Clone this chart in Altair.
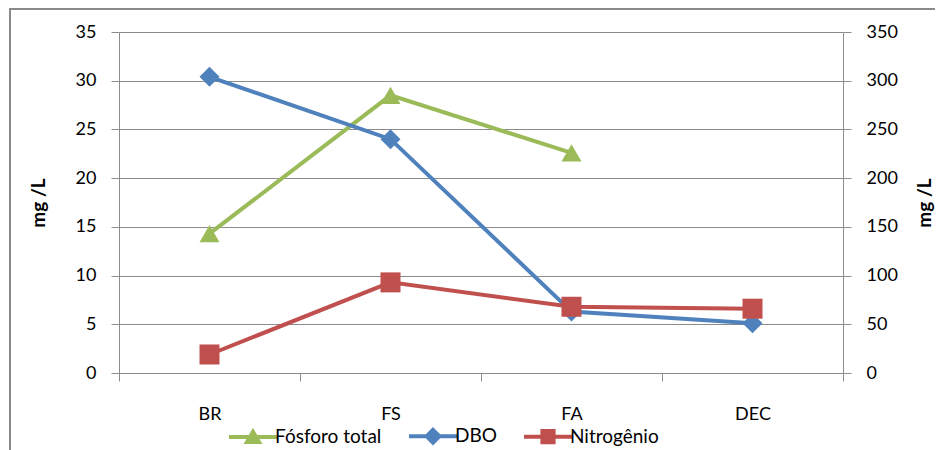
import altair as alt
import pandas as pd

categories = ["BR", "FS", "FA", "DEC"]
series_names = ["Fósforo total", "DBO", "Nitrogênio"]
fosforo_total = [14.3, 28.5, 22.6, None]
dbo = [304, 240, 63, 51]
nitrogenio = [1.9, 9.3, 6.8, 6.6]
colors = ["#9BBB59", "#4F81BD", "#C0504D"]
left_ticks = [0, 5, 10, 15, 20, 25, 30, 35]
right_ticks = [0, 50, 100, 150, 200, 250, 300, 350]
shapes = ["triangle-up", "diamond", "square"]
legend_paths = [
    "M-1,0H5M2,-0.65L2.75,0.65L1.25,0.65Z",
    "M-1,0H5M2,-0.8L2.8,0L2,0.8L1.2,0Z",
    "M-1,0H5M1.3,-0.7H2.7V0.7H1.3Z",
]

FONT = "Lato"
GRID = "#8c8c8c"


def frame(values):
    rows = [(c, v) for c, v in zip(categories, values) if v is not None]
    return pd.DataFrame(rows, columns=["cat", "value"])


x_enc = alt.X(
    "cat:N",
    sort=categories,
    bandPosition=0.5,
    scale=alt.Scale(type="band", domain=categories, paddingInner=0, paddingOuter=0),
    axis=alt.Axis(
        title=None, labelAngle=0, tickBand="extent", tickSize=8, labelPadding=24,
        labelFont=FONT, labelFontSize=18, labelColor="black",
        domainColor=GRID, tickColor=GRID, grid=False,
    ),
)


def series(values, color, shape, domain, axis):
    df = frame(values)
    y = alt.Y("value:Q", scale=alt.Scale(domain=domain, nice=False, zero=True), axis=axis)
    line = alt.Chart(df).mark_line(color=color, strokeWidth=4).encode(x=x_enc, y=y)
    pts = alt.Chart(df).mark_point(
        shape=shape, filled=True, color=color, opacity=1, size=400
    ).encode(x=x_enc, y=y)
    return line + pts


left_axis = alt.Axis(
    orient="left", values=left_ticks, title="mg /L", grid=True, gridColor=GRID,
    gridWidth=1, tickSize=8, tickColor=GRID, domainColor=GRID, labelPadding=15,
    labelFont=FONT, labelFontSize=18, labelColor="black",
    titleFont=FONT, titleFontSize=19, titleFontWeight="bold", titleColor="black",
    titlePadding=27,
)
right_axis = alt.Axis(
    orient="right", values=right_ticks, title="mg /L", grid=False, tickSize=8,
    tickColor=GRID, domainColor=GRID, labelPadding=15,
    labelFont=FONT, labelFontSize=18, labelColor="black",
    titleFont=FONT, titleFontSize=19, titleFontWeight="bold", titleColor="black",
    titleAngle=270, titleBaseline="middle", titleX=81,
)

green = series(fosforo_total, colors[0], shapes[0], [0, 35], left_axis)
blue = series(dbo, colors[1], shapes[1], [0, 350], right_axis)
red = series(nitrogenio, colors[2], shapes[2], [0, 35], None)

border = alt.Chart(pd.DataFrame({"a": [0]})).mark_rect(
    fill=None, stroke="#8a8a8a", strokeWidth=2
).encode(
    x=alt.value(-109), x2=alt.value(900), y=alt.value(-23), y2=alt.value(500)
)

leg = alt.Legend(
    orient="none", legendX=108, legendY=394, direction="horizontal", title=None,
    symbolSize=256, symbolStrokeWidth=4, symbolOpacity=1, labelOffset=28,
    columnPadding=19, labelFont=FONT, labelFontSize=19, labelColor="black",
)
legend_layer = alt.Chart(pd.DataFrame({"series": series_names})).mark_point(
    filled=True, opacity=0
).encode(
    shape=alt.Shape("series:N", sort=series_names,
                    scale=alt.Scale(domain=series_names, range=legend_paths), legend=leg),
    fill=alt.Fill("series:N", sort=series_names,
                  scale=alt.Scale(domain=series_names, range=colors), legend=leg),
    stroke=alt.Stroke("series:N", sort=series_names,
                      scale=alt.Scale(domain=series_names, range=colors), legend=leg),
)

chart = alt.layer(green, blue, red, border, legend_layer).resolve_scale(
    y="independent"
).properties(
    width=724, height=341, autosize="none",
    padding={"left": 111, "top": 24, "right": 92, "bottom": 80},
    background="white",
).configure_view(stroke=None)

chart.save("out.html", embed_options={"renderer": "svg", "actions": False})
